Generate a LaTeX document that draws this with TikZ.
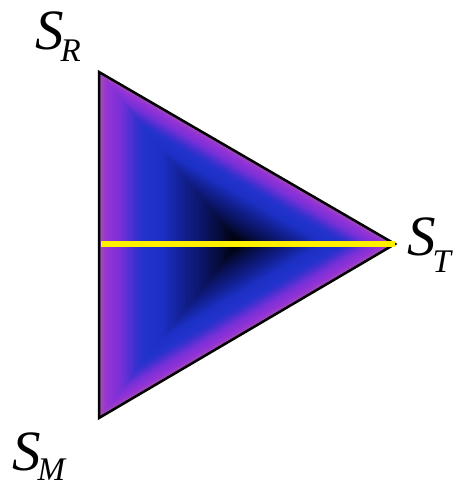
\documentclass[tikz,border=0pt]{standalone}
\usepackage{fontspec}
\setmainfont{Liberation Serif}
\usetikzlibrary{calc}
\definecolor{s0}{HTML}{A24FB0}
\definecolor{s1}{HTML}{9433D6}
\definecolor{s2}{HTML}{7A30D8}
\definecolor{s3}{HTML}{4030D0}
\definecolor{s4}{HTML}{2233CC}
\definecolor{s5}{HTML}{1C30C4}
\definecolor{s6}{HTML}{122090}
\definecolor{s7}{HTML}{081050}
\definecolor{s8}{HTML}{000000}
\newcommand\vlab[2]{S\kern-3pt\raisebox{-#2}{\fontsize{33}{33}\selectfont #1}}
\tikzset{
  vertexlabel/.style={anchor=base west, inner sep=0pt, font=\fontsize{57}{57}\selectfont\itshape},
  border/.style={draw=black, line width=2.5pt, line join=miter},
  axisline/.style={draw={rgb,255:red,255;green,240;blue,0}, line width=5.5pt}
}
\begin{document}
\begin{tikzpicture}[x=1pt,y=-1pt]
\useasboundingbox (0,0) rectangle (457,486);
\coordinate (A) at (99,72);
\coordinate (B) at (99,418);
\coordinate (C) at (395,244);
\coordinate (P) at (238,243);
\coordinate (M) at (101,244);
\foreach \ca/\cb/\ka/\kb in {0/0.06/s0/s1, 0.06/0.15/s1/s2, 0.15/0.25/s2/s3, 0.25/0.32/s3/s4, 0.32/0.45/s4/s5, 0.45/0.6/s5/s6, 0.6/0.8/s6/s7, 0.8/1/s7/s8} {
  \foreach \k in {0,...,9} {
    \pgfmathsetmacro\tval{\ca+(\cb-\ca)*\k/10}
    \pgfmathtruncatemacro\pct{\k*10}
    \colorlet{cur}{\kb!\pct!\ka}
    \fill[cur] ($(A)!\tval!(P)$) -- ($(B)!\tval!(P)$) -- ($(C)!\tval!(P)$) -- cycle;
  }
}
\draw[border] (A) -- (B) -- (C) -- cycle;
\draw[axisline] (M) -- (C);
\node[vertexlabel] (SR) at (35,50) {\vlab{R}{12pt}};
\node[vertexlabel] (SM) at (12,470) {\vlab{M}{10pt}};
\node[vertexlabel] (ST) at (407,255) {\vlab{T}{17pt}};
\end{tikzpicture}
\end{document}
